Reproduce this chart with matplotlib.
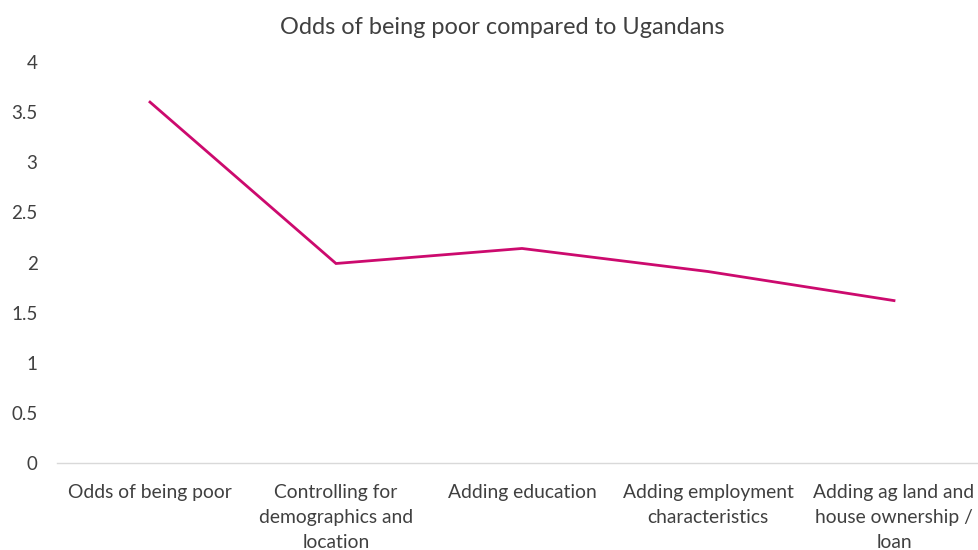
import matplotlib
matplotlib.use("Agg")
import matplotlib.pyplot as plt

# Odds ratios as controls are added step by step
steps = [
    "Odds of being poor",
    "Controlling for\ndemographics and\nlocation",
    "Adding education",
    "Adding employment\ncharacteristics",
    "Adding ag land and\nhouse ownership /\nloan",
]
odds = [3.60, 1.99, 2.14, 1.91, 1.62]
y_ticks = [0, 0.5, 1, 1.5, 2, 2.5, 3, 3.5, 4]
y_tick_labels = ["0", "0.5", "1", "1.5", "2", "2.5", "3", "3.5", "4"]

plt.rcParams["font.family"] = ["Lato", "DejaVu Sans"]
text_color = "#404040"

fig = plt.figure(figsize=(9.79, 5.5), dpi=100)
ax = fig.add_axes([57 / 979, 87 / 550, 922 / 979, 401 / 550])

x = list(range(len(steps)))
ax.plot(x, odds, color="#CC0A6E", linewidth=2.0, solid_joinstyle="miter")

ax.set_xlim(-0.5, 4.457)
ax.set_ylim(0, 4)
ax.set_yticks(y_ticks)
ax.set_yticklabels(y_tick_labels)
ax.set_xticks(x)
ax.set_xticklabels(steps, linespacing=1.57)

for side in ["top", "right", "left"]:
    ax.spines[side].set_visible(False)
ax.spines["bottom"].set_color("#D9D9D9")
ax.spines["bottom"].set_linewidth(1)

ax.tick_params(axis="y", length=0, pad=14, labelsize=13.5, labelcolor=text_color)
ax.tick_params(axis="x", length=0, pad=15, labelsize=13.9, labelcolor=text_color)

fig.text(502 / 979, 1 - 28 / 550, "Odds of being poor compared to Ugandans",
         ha="center", va="center", fontsize=16.9, color=text_color)

fig.savefig("out.png", dpi=100)
